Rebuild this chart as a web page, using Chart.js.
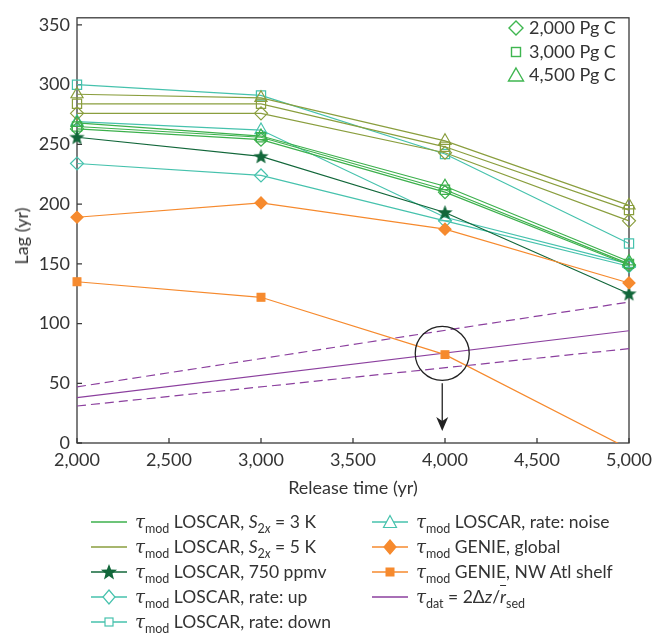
<!DOCTYPE html>
<html>
<head>
<meta charset="utf-8">
<script src="https://cdn.jsdelivr.net/npm/chart.js@4.4.1/dist/chart.umd.min.js"></script>
<style>
  body{margin:0;background:#fff;font-family:Lato,'Open Sans',sans-serif;color:#333}
  #wrap{position:relative;width:667px;height:635px;overflow:hidden}
  #box{position:absolute;left:0;top:0;width:667px;height:500px}
  .ttl{position:absolute;font-size:18px;color:#333;white-space:nowrap}
  #ytitle{left:21px;top:236px;transform:translate(-50%,-50%) rotate(-90deg)}
  #xtitle{left:353px;top:487px;transform:translate(-50%,-50%)}
  .leg{position:absolute;top:509px}
  .row{height:25px;display:flex;align-items:center;font-size:17.5px;white-space:nowrap;color:#333}
  .row svg{width:36px;height:18px;margin-right:8px;flex:none}
  .tau{font-style:italic;font-family:'DejaVu Serif',serif;font-size:18px}
  sub{font-size:12.5px;vertical-align:-5px;line-height:0}
  .ov{text-decoration:overline}
</style>
</head>
<body>
<div id="wrap">
  <div id="box"><canvas id="chart" width="667" height="500"></canvas></div>
  <div id="ytitle" class="ttl">Lag (yr)</div>
  <div id="xtitle" class="ttl">Release time (yr)</div>
  <div id="leg1" class="leg" style="left:91px"></div>
  <div id="leg2" class="leg" style="left:372px"></div>
</div>
<script>
// ---- data ----
const years = [2000, 3000, 4000, 5000];
const xTicks = [2000, 2500, 3000, 3500, 4000, 4500, 5000];
const yTicks = [0, 50, 100, 150, 200, 250, 300, 350];

// LOSCAR, S2x = 3 K  (2,000 / 3,000 / 4,500 Pg C)
const s3k_2000 = [263, 254, 210, 149];
const s3k_3000 = [265, 256, 212, 150];
const s3k_4500 = [268, 257, 215, 152];
// LOSCAR, S2x = 5 K
const s5k_2000 = [276, 276, 243, 186];
const s5k_3000 = [284, 284, 248, 195];
const s5k_4500 = [292, 289, 253, 199];
// other LOSCAR runs
const ppmv750   = [256, 240, 193, 125];
const rateUp    = [234, 224, 186, 148];
const rateDown  = [300, 291, 242, 167];
const rateNoise = [269, 262, 189, 150];
// GENIE
const genieGlobal = [189, 201, 179, 134];
const genieShelf  = [135, 122, 74, -5];
// tau_dat with its range
const tauYears = [2000, 5000];
const tauDat   = [38, 94];
const tauHigh  = [47, 118];
const tauLow   = [31, 79];

const topLegend = ['2,000 Pg C', '3,000 Pg C', '4,500 Pg C'];

// ---- colours ----
const c3k = '#3cb04c', c5k = '#8a9e3e', cStar = '#12673a', cTeal = '#46c2ad';
const cOrange = '#f68a2e', cPurple = '#8b3f9e', cLeg = '#3fb650', ink = '#333';
const clear = 'rgba(255,255,255,0)';

function starPts(cx, cy, ro, ri){
  const p = [];
  for(let i=0;i<10;i++){
    const r = i%2 ? ri : ro;
    const a = -Math.PI/2 + i*Math.PI/5;
    p.push([cx + r*Math.cos(a), cy + r*Math.sin(a)]);
  }
  return p;
}
function starImage(color){
  const c = document.createElement('canvas');
  c.width = 17; c.height = 17;
  const g = c.getContext('2d');
  g.fillStyle = color;
  g.beginPath();
  starPts(8.5, 9, 8, 3.4).forEach(([x,y],i)=> i ? g.lineTo(x,y) : g.moveTo(x,y));
  g.closePath(); g.fill();
  return c;
}
const starImg = starImage(cStar);

const pts = (xs, ys)=> xs.map((x,i)=>({x, y: ys[i]}));

function line(label, xs, ys, color, style, extra){
  return Object.assign({
    label, data: pts(xs, ys),
    borderColor: color, borderWidth: 1.2,
    pointStyle: style || false,
    pointRadius: style ? 6.5 : 0,
    pointBorderColor: color, pointBorderWidth: 1.2,
    pointBackgroundColor: clear,
    tension: 0,
    clip: {left: 12, right: 12, top: 12, bottom: 0}
  }, extra || {});
}

const datasets = [
  line('GENIE NW Atl shelf', years, genieShelf, cOrange, 'rect', {pointBackgroundColor: cOrange, pointRadius: [5.5,5.5,5.5,0]}),
  line('GENIE global', years, genieGlobal, cOrange, 'rectRot', {pointBackgroundColor: cOrange, pointRadius: 6}),
  line('750 ppmv', years, ppmv750, cStar, starImg),
  line('3K 2000', years, s3k_2000, c3k, 'rectRot'),
  line('3K 3000', years, s3k_3000, c3k, 'rect'),
  line('3K 4500', years, s3k_4500, c3k, 'triangle', {pointRadius: 7}),
  line('5K 2000', years, s5k_2000, c5k, 'rectRot'),
  line('5K 3000', years, s5k_3000, c5k, 'rect'),
  line('5K 4500', years, s5k_4500, c5k, 'triangle', {pointRadius: 7}),
  line('rate: up', years, rateUp, cTeal, 'rectRot'),
  line('rate: down', years, rateDown, cTeal, 'rect'),
  line('rate: noise', years, rateNoise, cTeal, 'triangle', {pointRadius: 7}),
  line('tau dat', tauYears, tauDat, cPurple, null),
  line('tau high', tauYears, tauHigh, cPurple, null, {borderDash: [9,5]}),
  line('tau low', tauYears, tauLow, cPurple, null, {borderDash: [9,5]})
];

const tickFont = {family: "Lato, 'Open Sans', sans-serif", size: 18};

const decor = {
  id: 'decor',
  beforeDatasetsDraw(chart){
    const {ctx, chartArea: a, scales: {x, y}} = chart;
    ctx.save();
    ctx.strokeStyle = '#3a3a3a'; ctx.lineWidth = 1.3;
    ctx.strokeRect(a.left, a.top, a.right - a.left, a.bottom - a.top);
    ctx.beginPath();
    yTicks.forEach(v=>{ const py = y.getPixelForValue(v); ctx.moveTo(a.left, py); ctx.lineTo(a.left + 5, py); });
    xTicks.forEach(v=>{ const px = x.getPixelForValue(v); ctx.moveTo(px, a.bottom); ctx.lineTo(px, a.bottom - 5); });
    ctx.stroke();
    ctx.restore();
  },
  afterDatasetsDraw(chart){
    const {ctx, scales: {x, y}} = chart;
    ctx.save();
    // circle round the crossing + arrow
    const cx = x.getPixelForValue(3985), cy = y.getPixelForValue(75);
    ctx.strokeStyle = '#222'; ctx.lineWidth = 1.3;
    ctx.beginPath(); ctx.arc(cx, cy, 27, 0, Math.PI*2); ctx.stroke();
    const y0 = y.getPixelForValue(50), tip = y.getPixelForValue(10);
    ctx.beginPath(); ctx.moveTo(cx, y0); ctx.lineTo(cx, tip - 8); ctx.stroke();
    ctx.fillStyle = '#222';
    ctx.beginPath(); ctx.moveTo(cx, tip); ctx.lineTo(cx - 6, tip - 14); ctx.lineTo(cx, tip - 10); ctx.lineTo(cx + 6, tip - 14); ctx.closePath(); ctx.fill();

    // marker legend, top right
    ctx.strokeStyle = cLeg; ctx.lineWidth = 1.4;
    const mx = 516, rows = [28, 52, 75];
    ctx.beginPath(); ctx.moveTo(mx, rows[0]-7); ctx.lineTo(mx+7, rows[0]); ctx.lineTo(mx, rows[0]+7); ctx.lineTo(mx-7, rows[0]); ctx.closePath(); ctx.stroke();
    ctx.strokeRect(mx-4.5, rows[1]-4.5, 9, 9);
    ctx.beginPath(); ctx.moveTo(mx, rows[2]-7); ctx.lineTo(mx+7.5, rows[2]+6); ctx.lineTo(mx-7.5, rows[2]+6); ctx.closePath(); ctx.stroke();
    ctx.fillStyle = ink; ctx.font = "18px Lato, 'Open Sans', sans-serif"; ctx.textBaseline = 'middle';
    topLegend.forEach((t,i)=> ctx.fillText(t, 529, rows[i]));
    ctx.restore();
  }
};

new Chart(document.getElementById('chart'), {
  type: 'line',
  data: {datasets},
  plugins: [decor],
  options: {
    responsive: false, animation: false, devicePixelRatio: 1,
    layout: {padding: {top: 11, right: 38, left: 0, bottom: 0}},
    plugins: {legend: {display: false}, tooltip: {enabled: false}},
    scales: {
      x: {
        type: 'linear', min: 2000, max: 5000,
        afterBuildTicks: s=>{ s.ticks = xTicks.map(v=>({value: v})); },
        afterFit: s=>{ s.height = 57; },
        grid: {display: false, drawTicks: false}, border: {display: false},
        ticks: {padding: 6, font: tickFont, color: ink, maxRotation: 0, autoSkip: false,
                callback: v=> v.toLocaleString('en-US')}
      },
      y: {
        min: 0, max: 356,
        afterBuildTicks: s=>{ s.ticks = yTicks.map(v=>({value: v})); },
        afterFit: s=>{ s.width = 77; },
        grid: {display: false, drawTicks: false}, border: {display: false},
        ticks: {padding: 7, font: tickFont, color: ink}
      }
    }
  }
});

// ---- bottom legend (HTML, for the sub/superscripts) ----
function markerSvg(kind, color, filled){
  if(kind === 'diamond') return `<polygon points="18,2 24,9 18,16 12,9" fill="${filled?color:'#fff'}" stroke="${color}" stroke-width="1.2"/>`;
  if(kind === 'square') return filled ? `<rect x="13.5" y="4.5" width="9" height="9" fill="${color}"/>` : `<rect x="14" y="5" width="8" height="8" fill="#fff" stroke="${color}" stroke-width="1.2"/>`;
  if(kind === 'triangle') return `<polygon points="18,2.5 24.5,14.5 11.5,14.5" fill="#fff" stroke="${color}" stroke-width="1.2"/>`;
  if(kind === 'star') return `<polygon points="${starPts(18,9.5,8.5,3.6).map(p=>p.join(',')).join(' ')}" fill="${color}"/>`;
  return '';
}
function sample(color, kind, filled){
  return `<svg viewBox="0 0 36 18"><line x1="0" y1="9" x2="36" y2="9" stroke="${color}" stroke-width="1.5"/>${markerSvg(kind, color, filled)}</svg>`;
}
const T = '<span class="tau">τ</span><sub>mod</sub> ';
const legendCol1 = [
  [c3k, null, false, T + 'LOSCAR, <i>S</i><sub>2<i>x</i></sub> = 3 K'],
  [c5k, null, false, T + 'LOSCAR, <i>S</i><sub>2<i>x</i></sub> = 5 K'],
  [cStar, 'star', true, T + 'LOSCAR, 750 ppmv'],
  [cTeal, 'diamond', false, T + 'LOSCAR, rate: up'],
  [cTeal, 'square', false, T + 'LOSCAR, rate: down']
];
const legendCol2 = [
  [cTeal, 'triangle', false, T + 'LOSCAR, rate: noise'],
  [cOrange, 'diamond', true, T + 'GENIE, global'],
  [cOrange, 'square', true, T + 'GENIE, NW Atl shelf'],
  [cPurple, null, false, '<span class="tau">τ</span><sub>dat</sub> = 2Δ<i>z</i>/<i class="ov">r</i><sub>sed</sub>']
];
function fillLegend(id, rows){
  document.getElementById(id).innerHTML = rows.map(([c,k,f,h])=>
    `<div class="row">${sample(c,k,f)}<span>${h}</span></div>`).join('');
}
fillLegend('leg1', legendCol1);
fillLegend('leg2', legendCol2);
</script>
</body>
</html>
